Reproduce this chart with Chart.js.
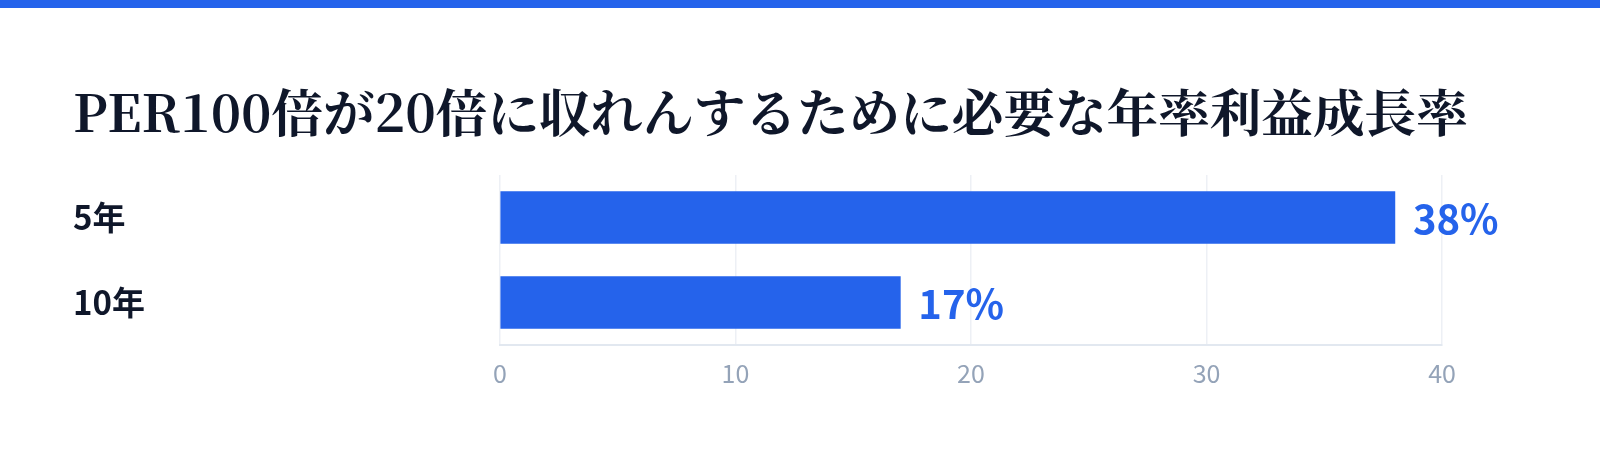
<!DOCTYPE html>
<html>
<head>
<meta charset="utf-8">
<script src="https://cdn.jsdelivr.net/npm/chart.js@4.4.1/dist/chart.umd.min.js"></script>
<style>
  html, body { margin: 0; padding: 0; background: #ffffff; width: 1600px; height: 462px; overflow: hidden; }
  #topbar { position: absolute; left: 0; top: 0; width: 1600px; height: 8px; background: #2563eb; }
  #title { position: absolute; left: 73px; top: 75px; margin: 0; white-space: nowrap;
    font-family: "Noto Serif CJK JP", "Noto Serif JP", "Noto Sans CJK JP", serif;
    font-weight: 700; font-size: 51.6px; line-height: 70px; color: #0f172a; }
  #wrap { position: absolute; left: 0; top: 0; width: 1600px; height: 462px; }
</style>
</head>
<body>
<div id="topbar"></div>
<div id="title">PER100倍が20倍に収れんするために必要な年率利益成長率</div>
<div id="wrap"><canvas id="c"></canvas></div>
<script>
const categories = ["5年", "10年"];
const growthRates = [38, 17];
const xTickValues = [0, 10, 20, 30, 40];

const FONT = "'Noto Sans CJK JP', 'Noto Sans', sans-serif";

const valueLabels = {
  id: 'valueLabels',
  afterDatasetsDraw(chart) {
    const ctx = chart.ctx;
    const meta = chart.getDatasetMeta(0);
    ctx.save();
    ctx.font = "700 40px " + FONT;
    ctx.fillStyle = "#2563eb";
    ctx.textAlign = "left";
    ctx.textBaseline = "middle";
    meta.data.forEach((bar, i) => {
      ctx.fillText(growthRates[i] + "%", bar.x + 18, bar.y + 1);
    });
    ctx.restore();
  }
};

new Chart(document.getElementById('c'), {
  type: 'bar',
  data: {
    labels: categories,
    datasets: [{
      data: growthRates,
      backgroundColor: "#2563eb",
      borderWidth: 0,
      barThickness: 52
    }]
  },
  plugins: [valueLabels],
  options: {
    indexAxis: 'y',
    responsive: true,
    maintainAspectRatio: false,
    animation: false,
    layout: { padding: { left: 73, right: 158, top: 175, bottom: 57 } },
    plugins: { legend: { display: false }, tooltip: { enabled: false } },
    scales: {
      x: {
        min: 0, max: 40,
        afterBuildTicks(scale) { scale.ticks = xTickValues.map(v => ({ value: v })); },
        afterFit(scale) { scale.height = 60; },
        grid: { color: "#edf0f5", lineWidth: 1.5, drawTicks: false },
        border: { display: true, color: "#e2e8f0", width: 2 },
        ticks: {
          padding: 13,
          color: "#94a3b8",
          font: { family: FONT, size: 25, weight: '400' }
        }
      },
      y: {
        afterFit(scale) { scale.width = 427; },
        grid: { display: false, drawTicks: false },
        border: { display: false },
        ticks: {
          crossAlign: 'far',
          padding: 0,
          color: "#0f172a",
          font: { family: FONT, size: 33, weight: '700' }
        }
      }
    }
  }
});
</script>
</body>
</html>
